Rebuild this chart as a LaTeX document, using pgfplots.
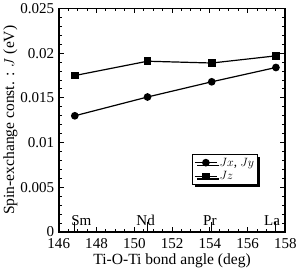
\documentclass[border=0pt]{standalone}
\usepackage{pgfplots}
\pgfplotsset{compat=1.18}
\usepackage{fontspec}
\setmainfont{Liberation Serif}
\usetikzlibrary{shadows}
\begin{document}
\begin{tikzpicture}
\begin{axis}[
  scale only axis,
  width=226pt, height=223pt,
  xmin=146, xmax=158, ymin=0, ymax=0.025,
  xtick={146,148,...,158},
  ytick={0,0.005,0.01,0.015,0.02,0.025},
  yticklabels={0,0.005,0.01,0.015,0.02,0.025},
  scaled y ticks=false,
  minor x tick num=3,
  minor y tick num=4,
  tick align=inside,
  major tick length=5pt, minor tick length=3pt,
  tick style={black, line width=1pt},
  axis line style={line width=1.8pt},
  /pgf/number format/assume math mode=true,
  tick label style={font=\fontsize{15}{16}\selectfont},
  xticklabel style={yshift=-3pt},
  yticklabel style={xshift=-1pt},
  label style={font=\fontsize{15.5}{17}\selectfont},
  xlabel={Ti-O-Ti bond angle (deg)},
  ylabel={Spin-exchange const. : $J$ (eV)},
  xlabel style={yshift=2pt},
  ylabel style={yshift=-4pt},
  legend style={at={(rel axis cs:0.88,0.35)}, anchor=north east,
    draw=black, line width=1pt, fill=white,
    font=\fontsize{13}{14}\selectfont,
    drop shadow={shadow xshift=2.5pt, shadow yshift=-2.5pt, fill=black, opacity=1},
    row sep=0pt, inner sep=1.5pt},
  legend cell align=left,
  legend image code/.code={
    \draw[#1] (0pt,0pt) -- (22pt,0pt);
    \draw[#1, mark repeat=2, mark phase=2] plot coordinates {(0pt,0pt) (11pt,0pt) (22pt,0pt)};
  },
]
\addplot[black, line width=1.2pt, mark=*, mark size=3.2pt] coordinates {
 (146.85,0.0130) (150.7,0.0151) (154.1,0.0168) (157.5,0.0184)};
\addlegendentry{$Jx$, $Jy$}
\addplot[black, line width=1.2pt, mark=square*, mark size=3.2pt] coordinates {
 (146.85,0.0175) (150.7,0.0191) (154.1,0.0189) (157.5,0.0197)};
\addlegendentry{$Jz$}
\draw[line width=1pt] (axis cs:146.85,0) -- (axis cs:146.85,0.0011);
\draw[line width=1pt] (axis cs:150.7,0) -- (axis cs:150.7,0.0011);
\draw[line width=1pt] (axis cs:154.1,0) -- (axis cs:154.1,0.0011);
\draw[line width=1pt] (axis cs:157.5,0) -- (axis cs:157.5,0.0011);
\node[font=\fontsize{15}{16}\selectfont, anchor=south, inner sep=0pt] at (axis cs:147.2,0.0007) {Sm};
\node[font=\fontsize{15}{16}\selectfont, anchor=south, inner sep=0pt] at (axis cs:150.6,0.0007) {Nd};
\node[font=\fontsize{15}{16}\selectfont, anchor=south, inner sep=0pt] at (axis cs:154.0,0.0007) {Pr};
\node[font=\fontsize{15}{16}\selectfont, anchor=south, inner sep=0pt] at (axis cs:157.3,0.0007) {La};
\end{axis}
\end{tikzpicture}
\end{document}
